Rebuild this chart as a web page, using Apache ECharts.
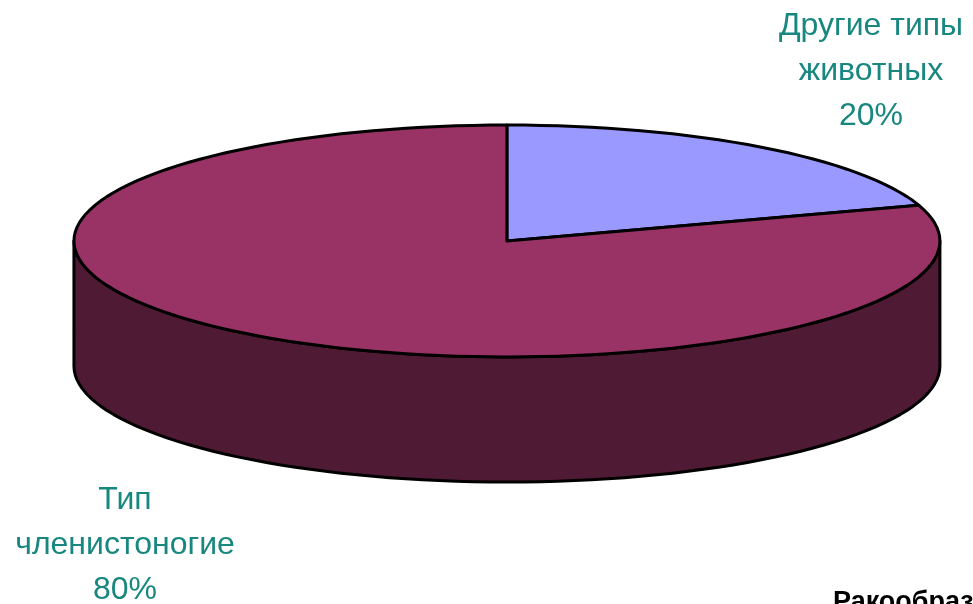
<!DOCTYPE html>
<html>
<head>
<meta charset="utf-8">
<script src="https://cdn.jsdelivr.net/npm/echarts@6/dist/echarts.min.js"></script>
<style>
html,body{margin:0;padding:0;background:#fff;}
#chart{width:973px;height:604px;}
</style>
</head>
<body>
<div id="chart"></div>
<script>
// ---- data ----
var categories = ['Другие типы\nживотных', 'Тип\nчленистоногие'];
var values = [20, 80];
var footnote = 'Ракообразные';

// ---- layout / style ----
var topColors = ['#9999ff', '#993366'];
var sideColors = ['#4d4d80', '#4f1a33'];
var labelPos = [[871, 71], [125, 545]];

var chart = echarts.init(document.getElementById('chart'), null, {renderer: 'canvas'});
var total = values.reduce(function (a, b) { return a + b; }, 0);

function renderItem(params, api) {
  var W = api.getWidth(), H = api.getHeight();
  var cx = W * 0.521, cy = H * 0.399;
  var rx = W * 0.445, ry = H * 0.192, depth = H * 0.207;
  var idx = params.dataIndex;
  var before = 0;
  for (var i = 0; i < idx; i++) before += values[i];
  var v = api.value(0);
  var a0 = before / total * Math.PI * 2;
  var a1 = (before + v) / total * Math.PI * 2;
  function pt(t, dy) { return [cx + rx * Math.sin(t), cy - ry * Math.cos(t) + (dy || 0)]; }
  var steps = 160;
  var children = [];
  var s0 = Math.max(a0, Math.PI / 2), s1 = Math.min(a1, Math.PI * 1.5);
  if (s1 > s0) {
    var side = [];
    var n = Math.max(2, Math.ceil(steps * (s1 - s0) / (Math.PI * 2)));
    for (var k = 0; k <= n; k++) side.push(pt(s0 + (s1 - s0) * k / n, 0));
    for (var k2 = n; k2 >= 0; k2--) side.push(pt(s0 + (s1 - s0) * k2 / n, depth));
    children.push({
      type: 'polygon',
      shape: {points: side},
      style: {fill: sideColors[idx], stroke: '#000', lineWidth: 3, lineJoin: 'round'}
    });
  }
  var topPts = [[cx, cy]];
  var m = Math.max(2, Math.ceil(steps * (a1 - a0) / (Math.PI * 2)));
  for (var j = 0; j <= m; j++) topPts.push(pt(a0 + (a1 - a0) * j / m, 0));
  children.push({
    type: 'polygon',
    shape: {points: topPts},
    style: {fill: topColors[idx], stroke: '#000', lineWidth: 3, lineJoin: 'round'}
  });
  children.push({
    type: 'text',
    x: labelPos[idx][0], y: labelPos[idx][1],
    style: {
      text: categories[idx] + '\n' + Math.round(v / total * 100) + '%',
      fill: '#17877f',
      font: '32px "Liberation Sans", Arial, sans-serif',
      lineHeight: 45,
      align: 'center', verticalAlign: 'middle'
    }
  });
  return {type: 'group', children: children};
}

chart.setOption({
  animation: false,
  backgroundColor: '#ffffff',
  series: [{
    type: 'custom',
    coordinateSystem: 'none',
    renderItem: renderItem,
    data: values.map(function (v, i) { return [v, i]; })
  }],
  graphic: [{
    type: 'text',
    left: 833, top: 589,
    style: {text: footnote, fill: '#000', font: 'bold 27px "Liberation Sans", Arial, sans-serif'}
  }]
});
</script>
</body>
</html>
